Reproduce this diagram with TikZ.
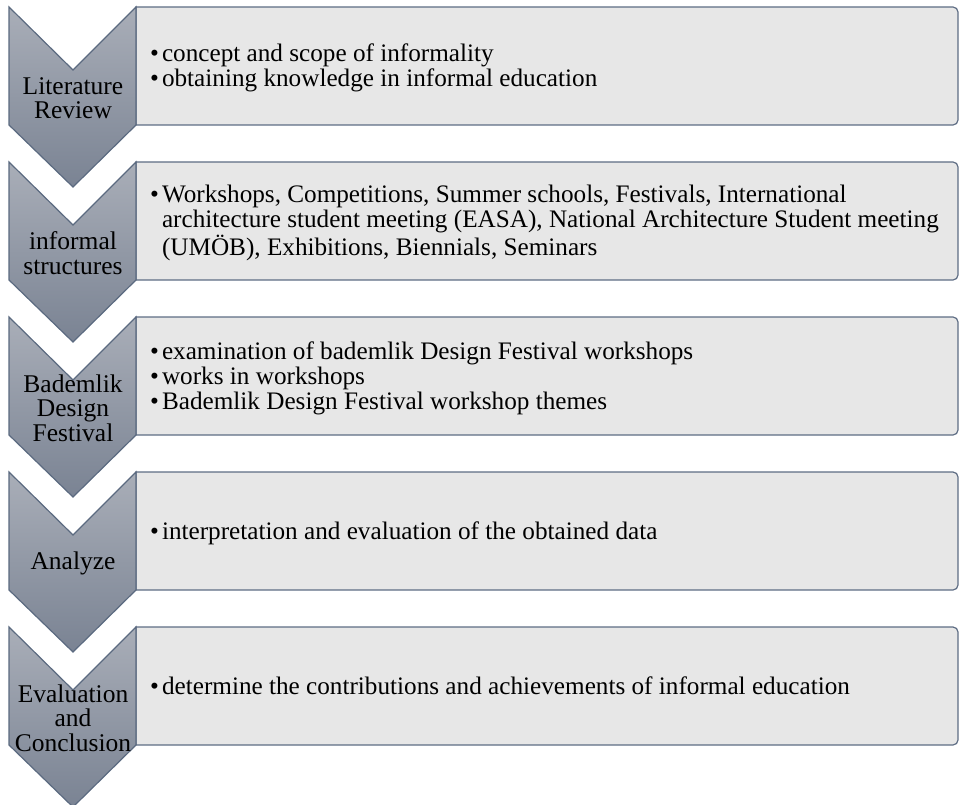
\documentclass[tikz,border=0pt]{standalone}
\usepackage{fontspec}
\setmainfont{Liberation Serif}
\usetikzlibrary{positioning}

\definecolor{arrowedge}{HTML}{5B6A80}
\definecolor{arrowtop}{HTML}{A9AEB8}
\definecolor{arrowbottom}{HTML}{7A8393}
\definecolor{paneledge}{HTML}{5E6D84}
\definecolor{panelfill}{HTML}{E7E7E7}

\tikzset{
  chevron/.style={draw=arrowedge, line width=1.2pt, top color=arrowtop, bottom color=arrowbottom},
  panel/.style={draw=paneledge, line width=1.2pt, fill=panelfill},
  steplabel/.style={align=center, inner sep=0pt, font=\fontsize{25.5}{24.5}\selectfont},
  bullets/.style={anchor=west, inner sep=0pt, font=\fontsize{25.2}{24.5}\selectfont}
}
\newcommand{\itemlist}[1]{\begin{tabular}{@{}l@{\hspace{3pt}}l@{}}#1\end{tabular}}

\begin{document}
\begin{tikzpicture}[x=1pt,y=-1pt]
    \useasboundingbox (0,0) rectangle (961,805);

    % Literature Review
    \draw[panel] (136,7) -- (953,7) arc[start angle=-90,end angle=0,radius=5] -- (958,120) arc[start angle=0,end angle=90,radius=5] -- (136,125) -- cycle;
    \draw[chevron] (9,7) -- (73,70) -- (136,7) -- (136,125) -- (73,187) -- (9,125) -- cycle;
    \node[steplabel] (lit) at (73,98) {Literature\\Review};
    \node[bullets] (litItems) at (150,69) {\itemlist{%
      \textbullet & concept and scope of informality\\
      \textbullet & obtaining knowledge in informal education}};

    % informal structures
    \draw[panel] (136,162) -- (953,162) arc[start angle=-90,end angle=0,radius=5] -- (958,275) arc[start angle=0,end angle=90,radius=5] -- (136,280) -- cycle;
    \draw[chevron] (9,162) -- (73,225) -- (136,162) -- (136,280) -- (73,342) -- (9,280) -- cycle;
    \node[steplabel] (inf) at (73,253) {informal\\structures};
    \node[bullets] (infItems) at (150,224) {\itemlist{%
      \textbullet & Workshops, Competitions, Summer schools, Festivals, International\\
      & architecture student meeting (EASA), National Architecture Student meeting\\
      & (UMÖB), Exhibitions, Biennials, Seminars}};

    % Bademlik Design Festival
    \draw[panel] (136,317) -- (953,317) arc[start angle=-90,end angle=0,radius=5] -- (958,430) arc[start angle=0,end angle=90,radius=5] -- (136,435) -- cycle;
    \draw[chevron] (9,317) -- (73,380) -- (136,317) -- (136,435) -- (73,497) -- (9,435) -- cycle;
    \node[steplabel] (bdf) at (73,408) {Bademlik\\Design\\Festival};
    \node[bullets] (bdfItems) at (150,379) {\itemlist{%
      \textbullet & examination of bademlik Design Festival workshops\\
      \textbullet & works in workshops\\
      \textbullet & Bademlik Design Festival workshop themes}};

    % Analyze
    \draw[panel] (136,472) -- (953,472) arc[start angle=-90,end angle=0,radius=5] -- (958,585) arc[start angle=0,end angle=90,radius=5] -- (136,590) -- cycle;
    \draw[chevron] (9,472) -- (73,535) -- (136,472) -- (136,590) -- (73,652) -- (9,590) -- cycle;
    \node[steplabel] (ana) at (73,563) {Analyze};
    \node[bullets] (anaItems) at (150,534) {\itemlist{%
      \textbullet & interpretation and evaluation of the obtained data}};

    % Evaluation and Conclusion
    \draw[panel] (136,627) -- (953,627) arc[start angle=-90,end angle=0,radius=5] -- (958,740) arc[start angle=0,end angle=90,radius=5] -- (136,745) -- cycle;
    \draw[chevron] (9,627) -- (73,690) -- (136,627) -- (136,745) -- (73,807) -- (9,745) -- cycle;
    \node[steplabel] (evc) at (73,718) {Evaluation\\and\\Conclusion};
    \node[bullets] (evcItems) at (150,689) {\itemlist{%
      \textbullet & determine the contributions and achievements of informal education}};
\end{tikzpicture}
\end{document}
